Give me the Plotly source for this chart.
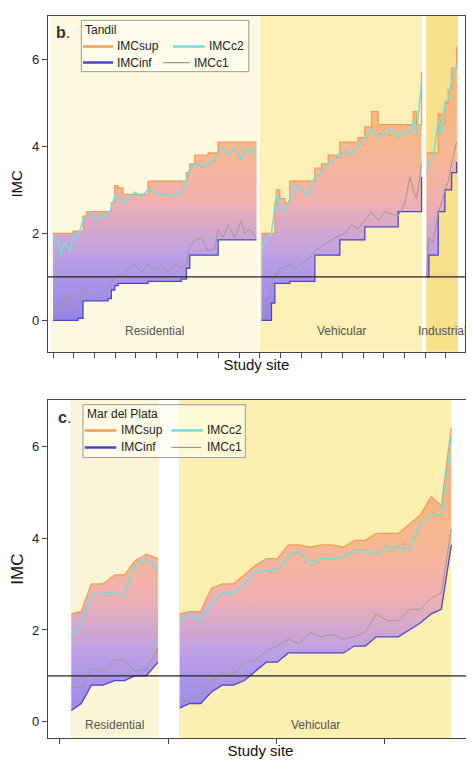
import plotly.graph_objects as go
from plotly.subplots import make_subplots

# ---------- Tandil (panel b) ----------
t_res_x = [135,150,160,165,170,185,195,210,225,235,250,265,280,300,310,320,330,345,360,380,400,420,440,460,480,500,520,535,545,560,580,600,620,630,645,660,680,700,710,725,745]
t_res_sup = [2.0,2.0,2.0,2.0,2.0,2.0,2.05,2.05,2.4,2.5,2.5,2.5,2.5,2.5,2.7,3.1,3.05,2.9,2.9,2.9,2.9,3.2,3.2,3.2,3.2,3.2,3.2,3.4,3.6,3.8,3.8,3.85,3.85,4.1,4.1,4.1,4.1,4.1,4.1,4.1,4.1]
t_res_c2 = [1.95,1.8,1.5,1.7,1.8,1.6,1.9,1.95,2.3,2.4,2.45,2.3,2.4,2.4,2.6,2.85,2.8,2.7,2.8,2.95,2.85,3.0,2.95,2.9,2.9,2.85,2.95,3.2,3.5,3.6,3.55,3.6,3.7,3.9,3.95,3.8,3.95,3.7,3.95,3.85,4.0]
t_res_c1 = [0.0,0.3,0.5,0.1,0.55,0.6,0.2,0.3,0.75,0.6,0.55,0.65,0.6,0.7,0.85,1.0,1.05,1.0,1.2,1.3,1.1,1.3,1.15,1.25,1.1,1.3,1.2,1.3,1.7,1.85,1.9,1.6,1.65,2.1,1.9,2.2,1.9,2.3,2.0,2.1,1.9]
t_res_inf = [0,0,0,0,0,0,0,0.05,0.45,0.45,0.45,0.45,0.45,0.5,0.7,0.8,0.85,0.85,0.85,0.85,0.85,0.9,0.9,0.9,0.9,0.9,0.95,1.2,1.5,1.5,1.5,1.5,1.5,1.85,1.85,1.85,1.85,1.85,1.85,1.85,1.85]

t_veh_x = [760,775,790,800,805,815,830,845,860,880,900,920,940,960,980,995,1010,1030,1050,1070,1090,1110,1130,1150,1170,1190,1205,1215,1225,1240]
t_veh_sup = [2.0,2.0,2.0,2.7,3.0,2.8,2.7,3.2,3.2,3.2,3.2,3.5,3.6,3.8,3.8,4.1,4.1,4.1,4.2,4.45,4.8,4.5,4.5,4.5,4.5,4.5,4.5,4.8,4.5,5.7]
t_veh_c2 = [1.6,1.9,2.0,2.7,2.9,2.6,2.5,2.8,3.1,3.0,2.9,3.3,3.4,3.6,3.7,3.8,3.9,3.8,4.0,4.2,4.4,4.2,4.3,4.4,4.2,4.35,4.3,4.6,4.3,5.5]
t_veh_c1 = [0.0,0.3,0.7,1.1,1.0,1.2,1.2,1.3,1.2,1.3,1.4,1.6,1.7,1.8,1.9,1.95,2.0,2.2,2.1,2.3,2.5,2.3,2.5,2.45,2.4,2.7,3.3,3.0,2.8,3.6]
t_veh_inf = [0,0,0.4,0.85,0.85,0.85,0.85,0.9,0.9,0.9,0.9,1.5,1.5,1.5,1.5,1.85,1.85,1.85,1.85,2.15,2.15,2.15,2.15,2.15,2.5,2.5,2.5,2.5,2.5,3.3]

t_ind_x = [1255,1262,1275,1290,1300,1310,1320,1330,1345]
t_ind_sup = [3.85,3.85,3.85,4.75,4.5,5.0,5.3,5.8,6.3]
t_ind_c2 = [3.4,3.6,3.75,4.6,4.3,5.0,5.1,5.5,5.9]
t_ind_c1 = [1.0,1.9,1.8,2.5,2.7,3.0,3.2,3.6,4.1]
t_ind_inf = [1.0,1.5,1.5,2.5,2.5,3.0,3.0,3.4,3.65]

# ---------- Mar del Plata (panel c) ----------
m_res_x = [190,220,250,285,320,350,380,415,450]
m_res_sup = [2.35,2.4,3.0,3.0,3.2,3.2,3.5,3.65,3.55]
m_res_c2 = [1.9,2.1,2.75,2.8,2.8,2.75,3.4,3.55,3.3]
m_res_c1 = [0.75,0.75,1.15,1.1,1.35,1.35,1.1,1.15,1.6]
m_res_inf = [0.25,0.4,0.8,0.8,0.9,0.9,1.0,1.0,1.3]

m_veh_x = [515,545,578,610,643,676,709,742,775,808,841,874,907,940,973,1006,1039,1072,1105,1138,1171,1204,1237,1270,1300,1330]
m_veh_sup = [2.35,2.4,2.4,2.9,3.0,3.0,3.2,3.4,3.55,3.55,3.85,3.85,3.8,3.85,3.85,3.8,3.95,3.95,4.1,4.1,4.1,4.3,4.5,4.9,4.7,6.4]
m_veh_c2 = [2.2,2.35,2.2,2.55,2.8,2.8,3.0,3.25,3.3,3.3,3.6,3.7,3.45,3.55,3.55,3.6,3.7,3.7,3.65,3.8,3.8,3.75,4.3,4.5,4.5,6.2]
m_veh_c1 = [0.45,0.45,0.6,0.9,1.05,1.05,1.3,1.35,1.55,1.65,1.8,1.7,1.95,1.85,1.9,1.8,1.85,1.95,2.35,2.2,2.2,2.45,2.45,2.7,2.8,4.2]
m_veh_inf = [0.3,0.4,0.4,0.65,0.8,0.8,0.9,1.1,1.3,1.3,1.5,1.5,1.5,1.5,1.5,1.5,1.65,1.65,1.85,1.85,1.85,2.0,2.15,2.35,2.45,3.85]

# category bands (start, end, label, colour)
t_bands = [(128, 749, "Residential", "#fdf8e0"), (755, 1242, "Vehicular", "#fcf0b6"), (1254, 1349, "Industrial", "#f7df8c")]
m_bands = [(188, 452, "Residential", "#fcf4d6"), (513, 1330, "Vehicular", "#fcefb2")]

C_SUP, C_C2, C_INF, C_C1 = "#f0a050", "#6fe0dc", "#4b45d0", "#a09890"
GRAD = [[0, "#9484ec"], [0.3, "#bca0e4"], [0.55, "#f0b0b0"], [0.8, "#f6b890"], [1, "#f6b482"]]

fig = make_subplots(rows=2, cols=1, vertical_spacing=0.069)

def add_group(row, x, sup, c2, c1, inf, step):
    shape = "hv" if step else "linear"
    fig.add_trace(go.Scatter(x=x, y=inf, mode="lines", line=dict(color=C_INF, width=1.3, shape=shape),
                             showlegend=False, hoverinfo="skip"), row=row, col=1)
    fig.add_trace(go.Scatter(x=x, y=sup, mode="lines", line=dict(color=C_SUP, width=1.3, shape=shape),
                             fill="tonexty",
                             fillgradient=dict(type="vertical", colorscale=GRAD, start=0, stop=5),
                             showlegend=False, hoverinfo="skip"), row=row, col=1)
    fig.add_trace(go.Scatter(x=x, y=c1, mode="lines", line=dict(color=C_C1, width=1),
                             showlegend=False, hoverinfo="skip"), row=row, col=1)
    fig.add_trace(go.Scatter(x=x, y=c2, mode="lines", line=dict(color=C_C2, width=1.5),
                             showlegend=False, hoverinfo="skip"), row=row, col=1)

add_group(1, t_res_x, t_res_sup, t_res_c2, t_res_c1, t_res_inf, True)
add_group(1, t_veh_x, t_veh_sup, t_veh_c2, t_veh_c1, t_veh_inf, True)
add_group(1, t_ind_x, t_ind_sup, t_ind_c2, t_ind_c1, t_ind_inf, True)
add_group(2, m_res_x, m_res_sup, m_res_c2, m_res_c1, m_res_inf, False)
add_group(2, m_veh_x, m_veh_sup, m_veh_c2, m_veh_c1, m_veh_inf, False)

shapes, annos = [], []
for (xr, yr, bands, ylab) in [("x", "y", t_bands, -0.25), ("x2", "y2", m_bands, -0.06)]:
    for a, b, lab, col in bands:
        shapes.append(dict(type="rect", xref=xr, yref=yr + " domain", x0=a, x1=b, y0=0, y1=1,
                           fillcolor=col, line_width=0, layer="below"))
        annos.append(dict(x=(a + b) / 2, y=ylab, xref=xr, yref=yr, text=lab, showarrow=False,
                          font=dict(size=12, color="#555555")))
    shapes.append(dict(type="line", xref=xr + " domain", yref=yr, x0=0, x1=1, y0=1, y1=1,
                       line=dict(color="#222222", width=1.3)))

def legend(xr, yr, box, title, rows, tag, tagpos):
    x0, x1, y0, y1 = box
    shapes.append(dict(type="rect", xref=xr, yref=yr, x0=x0, x1=x1, y0=y0, y1=y1,
                       fillcolor="rgba(255,255,240,0.6)", line=dict(color="#999999", width=1)))
    annos.append(dict(x=x0 + 6, y=title[1], xref=xr, yref=yr, text=title[0], showarrow=False,
                      xanchor="left", font=dict(size=12, color="#222")))
    for lx0, lx1, ty, tx, txt, col, w in rows:
        shapes.append(dict(type="line", xref=xr, yref=yr, x0=lx0, x1=lx1, y0=ty, y1=ty,
                           line=dict(color=col, width=w)))
        annos.append(dict(x=tx, y=ty, xref=xr, yref=yr, text=txt, showarrow=False, xanchor="left",
                          font=dict(size=12, color="#222")))
    annos.append(dict(x=tagpos[0], y=tagpos[1], xref=xr, yref=yr, text=tag, showarrow=False,
                      xanchor="left", font=dict(size=16, color="#333")))

legend("x", "y", (220, 722, 5.72, 6.9), ("Tandil", 6.68), [
    (225, 315, 6.3, 322, "IMCsup", C_SUP, 2.5), (495, 590, 6.3, 597, "IMCc2", C_C2, 2.5),
    (225, 315, 5.93, 322, "IMCinf", C_INF, 2.5), (465, 545, 5.93, 552, "IMCc1", C_C1, 1.2)],
    "<b>b</b>.", (138, 6.62))
legend("x2", "y2", (225, 712, 5.75, 6.9), ("Mar del Plata", 6.7), [
    (230, 325, 6.34, 332, "IMCsup", C_SUP, 2.5), (490, 585, 6.34, 590, "IMCc2", C_C2, 2.5),
    (230, 325, 5.97, 332, "IMCinf", C_INF, 2.5), (490, 580, 5.97, 590, "IMCc1", C_C1, 1.2)],
    "<b>c</b>.", (143, 6.62))

ax = dict(showgrid=False, zeroline=False, showline=True, linecolor="#444", linewidth=1.3, mirror=True,
          ticks="outside", tickcolor="#444", ticklen=5, tickfont=dict(size=13, color="#222"))
fig.update_xaxes(**ax)
fig.update_yaxes(**ax)
fig.update_xaxes(range=[120, 1370], tick0=135, dtick=62, showticklabels=False, domain=[0, 0.981],
                 title=dict(text="Study site", font=dict(size=15, color="#111"), standoff=2), row=1, col=1)
fig.update_xaxes(range=[120, 1395], tick0=155, dtick=325, showticklabels=False,
                 title=dict(text="Study site", font=dict(size=15, color="#111"), standoff=2), row=2, col=1)
fig.update_yaxes(range=[-0.72, 7.0], tickvals=[0, 2, 4, 6], domain=[0.535, 1.0],
                 title=dict(text="IMC", font=dict(size=15, color="#111"), standoff=6), row=1, col=1)
fig.update_yaxes(range=[-0.35, 7.0], tickvals=[0, 2, 4, 6], domain=[0, 0.468],
                 title=dict(text="IMC", font=dict(size=17, color="#111"), standoff=6), row=2, col=1)

fig.update_layout(width=474, height=760, margin=dict(l=40, r=9, t=8, b=30, autoexpand=False),
                  paper_bgcolor="white", plot_bgcolor="white", shapes=shapes, annotations=annos,
                  font=dict(family="Liberation Sans, Arial, sans-serif"), showlegend=False)
fig.write_html("out.html")
